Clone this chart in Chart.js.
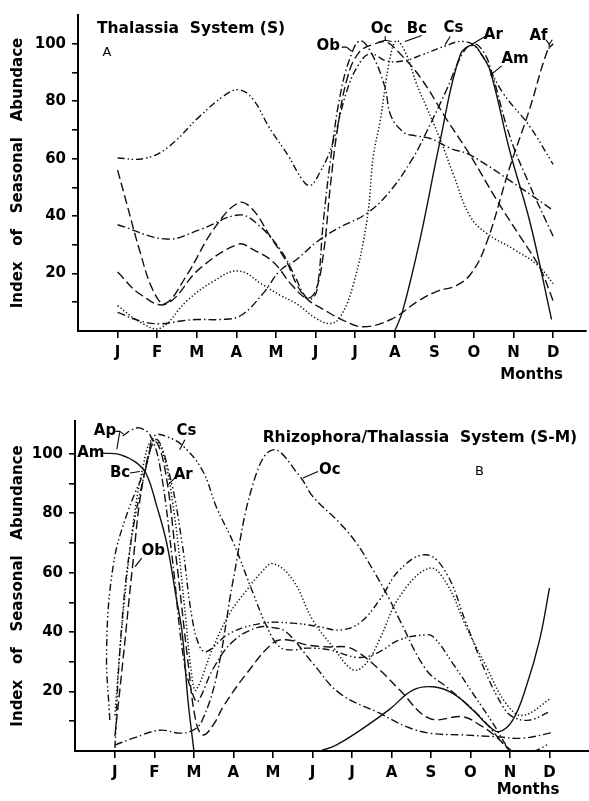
<!DOCTYPE html>
<html>
<head>
<meta charset="utf-8">
<script src="https://cdn.jsdelivr.net/npm/chart.js@4.4.0/dist/chart.umd.min.js"></script>
<style>
  body { margin: 0; background: #fff; }
  canvas { position: absolute; left: 0; }
</style>
</head>
<body>
<canvas id="chartA" width="589" height="400" style="top:0"></canvas>
<canvas id="chartB" width="589" height="401" style="top:400px"></canvas>
<script>
const MONTHS = ['J', 'F', 'M', 'A', 'M', 'J', 'J', 'A', 'S', 'O', 'N', 'D'];
const Y_TICKS = [10, 20, 30, 40, 50, 60, 70, 80, 90, 100];

// Panel A - Thalassia system. points are [month index, index value]
const A_CS = [[0,60.2],[0.65,60],[1.24,63.6],[2.08,74.8],[2.7,82],[3.05,84],[3.4,81],[3.85,70.4],[4.31,61],[4.65,53],[4.86,50.6],[5.1,55],[5.4,64],[5.8,84],[6.1,93],[6.38,96.5],[6.8,94],[7.22,94],[7.72,96.3],[8.23,99],[8.73,100.8],[9.1,98],[9.74,82.7],[10.4,71.4],[11,58]];
const A_OB = [[0,37],[1.24,32],[2.08,35.3],[3.05,40.4],[3.5,37.6],[4.1,28.5],[4.5,18.4],[4.7,12.8],[4.86,11],[5.03,14],[5.2,38.7],[5.4,62],[5.62,82],[5.87,95],[6.12,101],[6.4,97],[6.75,85],[6.9,75],[7.22,69.2],[7.5,68],[7.9,67],[8.4,63.6],[8.9,61.3],[10.16,50],[11,42]];
const A_OC = [[0,20.5],[0.57,12.8],[1.22,9.4],[2.08,21.8],[3.05,30.2],[3.4,28.5],[3.93,24],[4.4,16],[4.78,11.5],[5.0,14],[5.2,27],[5.37,50],[5.55,70],[5.8,88],[6.1,97],[6.5,100],[6.8,100.5],[7.1,97],[7.64,88.4],[8.31,73.7],[8.9,61.3],[9.58,45.5],[10.16,33],[10.67,21.8],[11,10.5]];
const A_BC = [[0,8.8],[0.57,3.1],[1.07,0.9],[1.75,10.5],[2.42,17.3],[3.05,20.9],[3.68,16],[4.1,12.5],[4.53,9.4],[5.0,4.5],[5.37,2.6],[5.62,4.8],[5.95,16],[6.3,38.7],[6.46,61],[6.63,73],[6.88,95],[7.05,101],[7.3,96],[7.55,86],[7.8,78],[8.14,67],[8.48,54.5],[8.9,40],[9.32,34],[10,28.5],[10.6,23],[11,16.5]];
const A_AR = [[0,6.5],[0.57,3.5],[1.07,2.5],[1.6,3.5],[2.0,4],[2.6,4],[3.1,5.3],[3.67,13],[4.1,21],[4.53,25],[5.03,31],[5.6,36],[6.3,41],[6.9,49],[7.45,60],[7.72,67],[8.31,84],[8.73,97],[9.0,100],[9.25,97],[9.45,90],[9.9,68],[10.4,51],[11,33]];
const A_AM = [[7,0],[7.2,7],[7.64,32],[8.14,65.8],[8.65,96],[8.98,99.5],[9.2,96],[9.41,90.6],[9.91,62.4],[10.42,37.6],[10.96,4]];
const A_AF = [[0,56],[0.23,44.4],[0.57,27.4],[0.9,14],[1.2,9.5],[1.75,19.5],[2.42,35.3],[3.05,44.6],[3.4,42.5],[3.85,33],[4.27,24],[4.53,16],[4.8,11],[5.2,7.5],[5.7,3.7],[6.2,1.5],[6.9,4],[7.6,10.5],[8.1,14],[8.5,15.5],[8.9,19.5],[9.3,30],[9.9,56.8],[10.4,77],[10.85,97.4],[11,100]];

// Panel B - Rhizophora/Thalassia system
const B_AM = [[-0.3,100.2],[0.13,99.7],[0.55,96.9],[0.8,93],[1.05,82.8],[1.31,70],[1.56,51],[1.7,40],[1.85,17],[2.0,0],[3.5,null],[5.2,0],[5.6,2],[6.1,6],[6.95,14],[7.54,20.5],[8.05,21.6],[8.55,19.4],[9.06,13.8],[9.48,8.2],[9.73,6.5],[10.07,10.4],[10.41,21.6],[10.75,37.4],[11,54.8]];
const B_CS = [[-0.13,10.4],[-0.21,34.6],[-0.04,62.6],[0.3,79.5],[0.8,96.3],[1.0,106],[1.39,105.3],[1.77,102],[2.23,94],[2.57,82],[3.0,70],[3.5,53],[3.84,42],[4.17,35],[4.5,34],[4.85,34.6],[5.44,34],[6.03,31.7],[6.36,31.7],[6.7,33.4],[7.21,37.4],[7.8,39],[8.05,38.5],[8.55,29.5],[9.06,19.4],[9.57,9.3],[9.9,2],[10.05,0],[10.6,0],[11,2.5]];
const B_OC = [[0,2],[0.5,4.5],[1.14,7],[1.64,6],[1.98,7],[2.2,10],[2.57,25],[3.0,58],[3.5,90],[4.0,101.3],[4.68,92.4],[5.01,85.6],[5.69,76.7],[6.11,70],[6.53,61],[6.95,51],[7.21,44],[7.88,27.3],[8.39,21.6],[8.89,16],[9.4,9.3],[9.82,2.6],[10.05,0]];
const B_AR = [[0,1],[0.13,34.6],[0.38,68],[0.8,96],[1.05,105],[1.4,92],[1.7,70],[1.95,45],[2.15,35],[2.32,33.4],[2.91,39.6],[3.75,43],[4.5,43],[5.18,41.8],[5.69,40.7],[6.19,43],[6.7,50.8],[7.21,61],[7.88,66],[8.39,59.8],[8.89,43],[9.4,26],[9.82,15],[10.07,11.5],[10.49,10.4],[11,13.2]];
const B_BC = [[0,12],[0.2,45],[0.45,75],[0.7,95],[0.95,105],[1.2,101],[1.5,80],[1.75,50],[1.95,25],[2.05,20.5],[2.49,35],[2.91,46.4],[3.33,54],[3.7,60],[4.0,63],[4.5,57.6],[5.01,44],[5.52,35],[6.03,27.3],[6.36,29.5],[6.7,37.5],[7.21,52],[7.96,61.5],[8.39,56.5],[8.89,41.8],[9.4,28.4],[9.9,16],[10.32,12],[11.04,17.7]];
const B_OB = [[0,5],[0.2,30],[0.46,63.7],[0.7,90],[1.0,104],[1.25,96],[1.55,65],[1.85,30],[2.05,10],[2.23,5.4],[2.5,9],[2.74,14.9],[3.33,26],[4.0,36.3],[4.34,37.4],[4.85,35.7],[5.44,35],[5.86,35],[6.19,32.9],[6.7,27.3],[7.21,20.5],[7.96,11],[8.81,11.5],[9.23,8.8],[9.65,4.8],[10.0,0]];
const B_AP = [[0.2,106],[0.45,108.2],[0.65,108.6],[0.9,106],[1.15,95],[1.45,65],[1.75,30],[2.0,18],[2.1,16.6],[2.5,28],[3.0,37],[3.6,41.5],[4.0,41.5],[4.34,40],[5.01,29.5],[5.69,19.4],[6.7,12.7],[7.38,8.2],[7.96,6],[8.81,5.4],[9.65,4.8],[10.32,4.3],[11.08,6.2]];

// species labels: [text, month, value] and their leader lines
const A_LABELS = [['Ob',5.32,99.1],['Oc',6.67,105.1],['Bc',7.56,105.1],['Cs',8.48,105.3],['Ar',9.49,103],['Am',10.04,94.6],['Af',10.63,102.5]];
const A_LEADERS = [
  [[5.66,98.8],[5.78,98.8],[5.91,97.4]],
  [[6.59,100.6],[6.76,101.2],[6.92,100.8]], [[6.76,101.2],[6.76,102.6]],
  [[7.68,102.9],[7.26,100.8]],
  [[8.4,102.5],[8.27,99.7]],
  [[9.28,102.5],[8.94,99.7]],
  [[9.7,92.3],[9.41,89]],
  [[10.82,101.4],[10.9,99.8],[10.98,101.4]], [[10.9,99.8],[10.9,98.2]]
];
const B_LABELS = [['Ap',-0.25,107.5],['Am',-0.61,100.2],['Bc',0.13,93.5],['Cs',1.81,107.5],['Ar',1.73,92.9],['Ob',0.97,67.1],['Oc',5.44,94.6]];
const B_LEADERS = [
  [[0.02,107.5],[0.12,107.5],[0.22,106.6]], [[0.12,107.2],[0.05,101.5]],
  [[0.38,93.5],[0.63,94]],
  [[1.77,104.7],[1.64,101.3]],
  [[1.56,92.4],[1.35,89.6]],
  [[0.68,64.9],[0.51,62]],
  [[5.14,94],[4.76,91.8]]
];

const DASH = {
  solid: [],
  dotted: [1.3, 2.2],
  dash: [9, 4],
  dashDot: [8, 3, 1.5, 3],
  dashDotDot: [7, 3, 1.5, 2.5, 1.5, 3]
};

const FONT = "'DejaVu Sans', sans-serif";

const overlay = {
  id: 'overlay',
  afterDraw(chart, args, opts) {
    const { ctx } = chart;
    const x = chart.scales.x, y = chart.scales.y;
    ctx.save();
    ctx.fillStyle = '#000';
    ctx.strokeStyle = '#000';
    ctx.lineWidth = 1.1;
    ctx.textBaseline = 'middle';
    opts.texts.forEach(t => {
      ctx.font = t.font || ('bold 15px ' + FONT);
      ctx.textAlign = t.align || 'center';
      ctx.fillText(t.text, x.getPixelForValue(t.at[0]), y.getPixelForValue(t.at[1]));
    });
    opts.leaders.forEach(pts => {
      ctx.beginPath();
      pts.forEach((p, i) => {
        const px = x.getPixelForValue(p[0]), py = y.getPixelForValue(p[1]);
        if (i === 0) ctx.moveTo(px, py); else ctx.lineTo(px, py);
      });
      ctx.stroke();
    });
    ctx.restore();
  }
};

function toPoints(arr) {
  return arr.map(p => ({ x: p[0], y: p[1] }));
}

function series(data, dash) {
  return {
    data: toPoints(data),
    borderColor: '#111',
    borderWidth: dash === DASH.dotted ? 1.5 : 1.4,
    borderDash: dash,
    borderCapStyle: 'butt',
    pointRadius: 0,
    tension: 0.4,
    fill: false,
    spanGaps: false
  };
}

function makeChart(id, o) {
  return new Chart(document.getElementById(id), {
    type: 'line',
    data: { datasets: o.datasets },
    options: {
      responsive: false,
      animation: false,
      events: [],
      layout: { padding: o.padding },
      plugins: {
        legend: { display: false },
        tooltip: { enabled: false },
        overlay: { texts: o.texts, leaders: o.leaders }
      },
      scales: {
        x: {
          type: 'linear',
          min: o.xMin,
          max: o.xMax,
          afterBuildTicks: s => { s.ticks = MONTHS.map((m, i) => ({ value: i })); },
          afterFit: s => { s.height = o.xHeight; },
          ticks: {
            autoSkip: false,
            maxRotation: 0,
            color: '#000',
            padding: 6,
            font: { family: FONT, size: 15, weight: 'bold' },
            callback: v => MONTHS[v]
          },
          grid: { drawOnChartArea: false, drawTicks: true, tickLength: 7, color: '#000', lineWidth: 1.6 },
          border: { display: true, color: '#000', width: 2 }
        },
        y: {
          min: 0,
          max: o.yMax,
          afterBuildTicks: s => { s.ticks = Y_TICKS.map(v => ({ value: v })); },
          afterFit: s => { s.width = o.yWidth; },
          ticks: {
            color: '#000',
            padding: 6,
            font: { family: FONT, size: 15, weight: 'bold' },
            callback: v => (v % 20 === 0 ? String(v) : '')
          },
          grid: { drawOnChartArea: false, drawTicks: true, tickLength: 6, color: '#000', lineWidth: 1.6 },
          border: { display: true, color: '#000', width: 2 },
          title: {
            display: true,
            text: o.yTitle,
            color: '#000',
            padding: { top: 9, bottom: 0 },
            font: { family: FONT, size: 15, weight: 'bold' }
          }
        }
      }
    },
    plugins: [overlay]
  });
}

makeChart('chartA', {
  padding: { left: 0, right: 3, top: 6, bottom: 0 },
  xMin: -1, xMax: 11.83, yMax: 110, xHeight: 69, yWidth: 78,
  yTitle: 'Index   of   Seasonal   Abundace',
  datasets: [
    series(A_CS, DASH.dashDotDot),
    series(A_OB, DASH.dashDot),
    series(A_OC, DASH.dash),
    series(A_BC, DASH.dotted),
    series(A_AR, DASH.dashDot),
    series(A_AM, DASH.solid),
    series(A_AF, DASH.dash)
  ],
  texts: [
    { text: 'Thalassia  System (S)', at: [-0.52, 105.3], align: 'left', font: 'bold 15.5px ' + FONT },
    { text: 'A', at: [-0.27, 96.9], font: '13px ' + FONT },
    { text: 'Months', at: [11.25, -15.2], align: 'right' }
  ].concat(A_LABELS.map(l => ({ text: l[0], at: [l[1], l[2]] }))),
  leaders: A_LEADERS
});

makeChart('chartB', {
  padding: { left: 0, right: 0, top: 21, bottom: 0 },
  xMin: -1.01, xMax: 12.0, yMax: 111, xHeight: 50, yWidth: 75,
  yTitle: 'Index   of   Seasonal   Abundance',
  datasets: [
    series(B_AM, DASH.solid),
    series(B_CS, DASH.dashDotDot),
    series(B_OC, DASH.dashDot),
    series(B_AR, DASH.dashDotDot),
    series(B_BC, DASH.dotted),
    series(B_OB, DASH.dash),
    series(B_AP, DASH.dashDot)
  ],
  texts: [
    { text: 'Rhizophora/Thalassia  System (S-M)', at: [3.74, 105.4], align: 'left', font: 'bold 15.5px ' + FONT },
    { text: 'B', at: [9.23, 94], font: '13px ' + FONT },
    { text: 'Months', at: [11.25, -13.1], align: 'right' }
  ].concat(B_LABELS.map(l => ({ text: l[0], at: [l[1], l[2]] }))),
  leaders: B_LEADERS
});
</script>
</body>
</html>
